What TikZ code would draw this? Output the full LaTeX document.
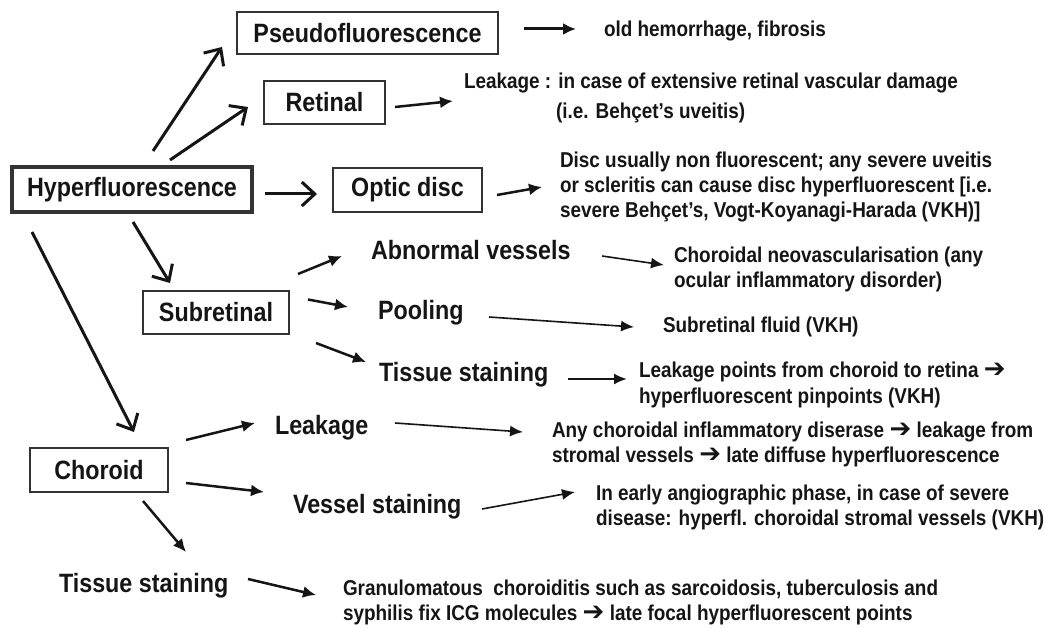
\documentclass[tikz,border=0pt]{standalone}
\usepackage{fontspec}
\setmainfont{Liberation Sans}[FakeStretch=0.88]
\newfontfamily\arrowfont{DejaVu Sans}
\usetikzlibrary{arrows.meta}
\definecolor{ink}{HTML}{151515}
\definecolor{boxgray}{HTML}{333333}
\newcommand\rar{{\arrowfont\bfseries\fontsize{26}{25}\selectfont ➔}}
\newcommand\stack[1]{\begin{tabular}[t]{@{}l@{}}#1\end{tabular}}
\newcommand\labfont{\fontsize{26.5}{30}\selectfont\bfseries}
\newcommand\descfont{\fontsize{21.5}{25}\selectfont\bfseries}
\begin{document}
\begin{tikzpicture}[x=1pt,y=-1pt,
  box/.style={draw=boxgray,line width=1.3pt,inner sep=0pt,outer sep=0pt,font=\labfont,text=ink},
  lab/.style={inner sep=0pt,outer sep=0pt,anchor=base west,font=\labfont,text=ink},
  desc/.style={inner sep=0pt,outer sep=0pt,anchor=base west,font=\descfont,text=ink},
  openarr/.style={draw=ink,line width=3pt,-{Straight Barb[length=13pt,width=24pt]}},
  solidarr/.style={draw=ink,line width=2.5pt,-{Latex[length=13pt,width=12pt]}},
  midarr/.style={draw=ink,line width=2pt,-{Latex[length=13pt,width=11pt]}},
  thinarr/.style={draw=ink,line width=1.6pt,-{Latex[length=13pt,width=11pt]}}]
\fill[white] (0,0) rectangle (1045,628);
\useasboundingbox (0,0) rectangle (1045,628);

% boxes
\node[box,minimum width=261pt,minimum height=42pt] (pseudo) at (367.5,33) {Pseudofluorescence};
\node[box,minimum width=121pt,minimum height=43pt] (retinal) at (324.5,102.5) {Retinal};
\node[box,line width=3.5pt,minimum width=240pt,minimum height=45pt] (hyper) at (132,189.5) {Hyperfluorescence};
\node[box,minimum width=149pt,minimum height=44pt] (optic) at (407.5,190) {Optic disc};
\node[box,minimum width=146pt,minimum height=43pt] (subret) at (216,312.5) {Subretinal};
\node[box,minimum width=138pt,minimum height=44pt] (choroid) at (99,470) {Choroid};

% labels
\node[lab] (abn) at (371,260) {Abnormal vessels};
\node[lab] (pool) at (378,320) {Pooling};
\node[lab] (tsub) at (379,382) {Tissue staining};
\node[lab] (leak) at (275,435) {Leakage};
\node[lab] (vess) at (293,513) {Vessel staining};
\node[lab] (tbot) at (59,592) {Tissue staining};

% descriptions
\node[desc] (old) at (604,37) {old hemorrhage, fibrosis};
\node[desc] (retd) at (464,89) {\stack{Leakage : in case of extensive retinal vascular damage\\[5pt]\hspace{92pt}(i.e. Behçet’s uveitis)}};
\node[desc] (optd) at (560,168) {\stack{Disc usually non fluorescent; any severe uveitis\\or scleritis can cause disc hyperfluorescent [i.e.\\severe Behçet’s, Vogt-Koyanagi-Harada (VKH)]}};
\node[desc] (neo) at (674,263) {\stack{Choroidal neovascularisation (any\\ocular inflammatory disorder)}};
\node[desc] (fluid) at (663,333) {Subretinal fluid (VKH)};
\node[desc] (pts) at (639,378) {\stack{Leakage points from choroid to retina \rar\\hyperfluorescent pinpoints (VKH)}};
\node[desc] (any) at (552,438) {\stack{Any choroidal inflammatory diserase \rar{} leakage from\\stromal vessels \rar{} late diffuse hyperfluorescence}};
\node[desc] (early) at (596,500) {\stack{In early angiographic phase, in case of severe\\disease: hyperfl. choroidal stromal vessels (VKH)}};
\node[desc] (gran) at (343,595) {\stack{Granulomatous\ \ choroiditis such as sarcoidosis, tuberculosis and\\syphilis fix ICG molecules \rar{} late focal hyperfluorescent points}};

% connectors
\draw[openarr] ([shift={(21,-16)}]hyper.north) -- ([shift={(-15,14)}]pseudo.west);
\draw[openarr] ([shift={(38,-7)}]hyper.north) -- ([shift={(-16,4.5)}]retinal.west);
\draw[openarr] ([shift={(13,4.5)}]hyper.east) -- ([shift={(-16,4)}]optic.west);
\draw[openarr] ([shift={(1,10)}]hyper.south) -- ([shift={(-46,-8)}]subret.north);
\draw[openarr] ([shift={(-100,20)}]hyper.south) -- ([shift={(35,-16)}]choroid.north);

\draw[solidarr,line width=3pt] ([shift={(26,-4)}]pseudo.east) -- ([shift={(-28,-8)}]old.base west);
\draw[solidarr] ([shift={(10,4.5)}]retinal.east) -- ([shift={(-11,12)}]retd.base west);
\draw[solidarr] ([shift={(15,5)}]optic.east) -- ([shift={(-18,19)}]optd.base west);

\draw[solidarr] ([shift={(9,-17)}]subret.north east) -- ([shift={(-29,-4)}]abn.base west);
\draw[thinarr] ([shift={(231,-4)}]abn.base west) -- ([shift={(-10,2)}]neo.base west);
\draw[solidarr] ([shift={(19,-13)}]subret.east) -- ([shift={(-30,-13)}]pool.base west);
\draw[thinarr] ([shift={(111,-3)}]pool.base west) -- ([shift={(-29,-6)}]fluid.base west);
\draw[solidarr] ([shift={(27,9)}]subret.south east) -- ([shift={(-13,-20)}]tsub.base west);
\draw[midarr] ([shift={(189,-3)}]tsub.base west) -- ([shift={(-12,1)}]pts.base west);

\draw[solidarr] ([shift={(18,-8)}]choroid.north east) -- ([shift={(-20,-12)}]leak.base west);
\draw[thinarr] ([shift={(120,-12)}]leak.base west) -- ([shift={(-29,-6)}]any.base west);
\draw[solidarr] ([shift={(18,13)}]choroid.east) -- ([shift={(-29,-21)}]vess.base west);
\draw[thinarr] ([shift={(189,-4)}]vess.base west) -- ([shift={(-21,-8)}]early.base west);
\draw[solidarr] ([shift={(44,9)}]choroid.south) -- ([shift={(127,-40)}]tbot.base west);
\draw[solidarr] ([shift={(189,-13)}]tbot.base west) -- ([shift={(-27,0)}]gran.base west);
\end{tikzpicture}
\end{document}
